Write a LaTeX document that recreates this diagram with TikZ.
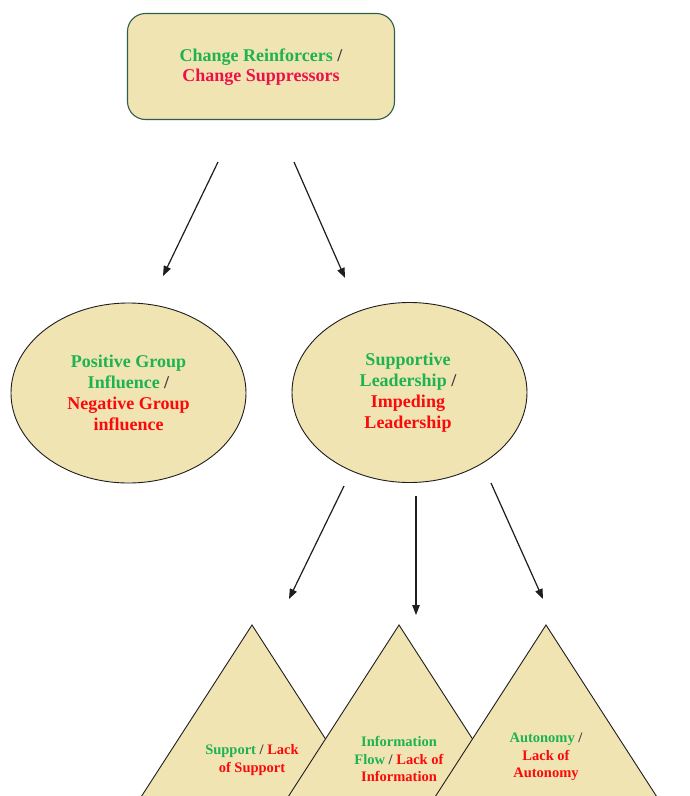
\documentclass[tikz,border=0pt]{standalone}
\usepackage{fontspec}
\setmainfont{Liberation Serif}
\usetikzlibrary{arrows.meta,shapes.geometric}
\definecolor{boxfill}{RGB}{241,228,179}
\definecolor{boxedge}{RGB}{46,94,78}
\definecolor{grn}{RGB}{30,178,80}
\definecolor{rd}{RGB}{250,10,10}
\definecolor{pinkred}{RGB}{238,16,72}
\definecolor{slashc}{RGB}{60,60,60}
\definecolor{lin}{RGB}{30,30,30}
\tikzset{
  bigtext/.style={font=\fontsize{18}{21}\selectfont\bfseries, align=center, inner sep=0pt},
  smalltext/.style={font=\fontsize{14.5}{17.5}\selectfont\bfseries, align=center, inner sep=0pt},
  oval/.style={ellipse, draw=lin, line width=0.9pt, fill=boxfill, minimum width=235pt, minimum height=180pt, inner sep=0pt},
  tri/.style={draw=lin, line width=0.9pt, fill=boxfill, line join=miter},
  arr/.style={draw=lin, line width=1.2pt, -{Triangle[length=10pt,width=7.5pt]}},
}
\newcommand{\G}[1]{\textcolor{grn}{#1}}
\newcommand{\R}[1]{\textcolor{rd}{#1}}
\newcommand{\Sl}{\textcolor{slashc}{/}}
\begin{document}
\begin{tikzpicture}[x=1pt,y=-1pt]
\clip (0,0) rectangle (689,796);
\fill[white] (0,0) rectangle (689,796);
% top box
\node[draw=boxedge, line width=1.1pt, fill=boxfill, rounded corners=18pt, minimum width=267pt, minimum height=106pt, inner sep=0pt] (top) at (261,66.5) {};
\node[bigtext, font=\fontsize{18}{20}\selectfont\bfseries] (toptext) at (261,67) {\G{Change Reinforcers} \Sl\\\textcolor{pinkred}{Change Suppressors}};
% ellipses
\node[oval] (group) at (128.5,393) {};
\node[bigtext] (grouptext) at (128.5,393) {\G{Positive Group}\\\G{Influence} \Sl\\\R{Negative Group}\\\R{influence}};
\node[oval] (lead) at (409.5,392.5) {};
\node[bigtext] (leadtext) at (408,393) {\G{Supportive}\\\G{Leadership} \Sl\\\R{Impeding}\\\R{Leadership}};
% arrows
\coordinate (a1s) at (218,162); \coordinate (a1e) at (163,276);
\coordinate (a2s) at (294,162); \coordinate (a2e) at (345,278);
\coordinate (a3s) at (344,486); \coordinate (a3e) at (289,599);
\coordinate (a4s) at (416,496); \coordinate (a4e) at (416,615);
\coordinate (a5s) at (491,483); \coordinate (a5e) at (543,599);
\draw[arr] (a1s) -- (a1e);
\draw[arr] (a2s) -- (a2e);
\draw[arr] (a3s) -- (a3e);
\draw[arr] (a4s) -- (a4e);
\draw[arr] (a5s) -- (a5e);
% triangles
\coordinate (t1) at (252,625);
\coordinate (t2) at (399,625);
\coordinate (t3) at (546,625);
\draw[tri] (t1) -- ++(-180,279) -- ++(360,0) -- cycle;
\node[smalltext] (supp) at (252,760) {\G{Support} \Sl\ \R{Lack}\\\R{of Support}};
\draw[tri] (t2) -- ++(-180,279) -- ++(360,0) -- cycle;
\node[smalltext] (info) at (399,759) {\G{Information}\\\G{Flow} \Sl\ \R{Lack of}\\\R{Information}};
\draw[tri] (t3) -- ++(-180,279) -- ++(360,0) -- cycle;
\node[smalltext] (auto) at (546,757) {\G{Autonomy} \Sl\\\R{Lack of}\\\R{Autonomy}};
\end{tikzpicture}
\end{document}
